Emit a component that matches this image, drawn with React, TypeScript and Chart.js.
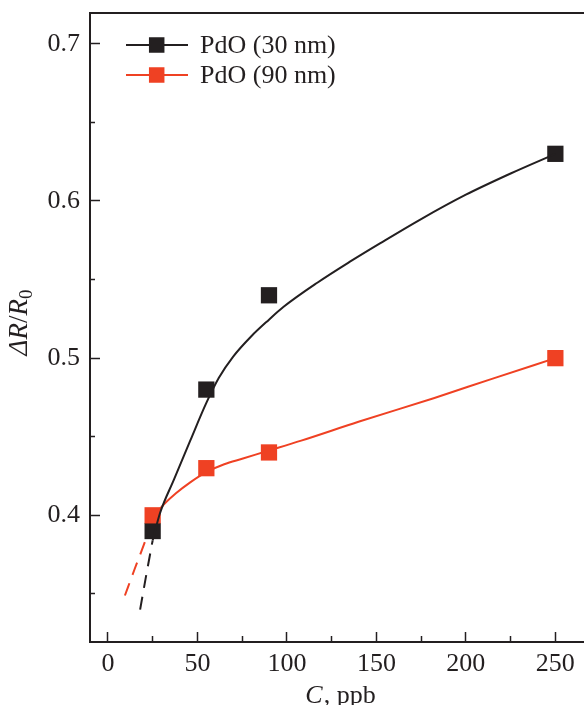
import { useEffect, useRef } from 'react';
import { Chart, registerables } from 'chart.js';

Chart.register(...registerables);

// ---- data ----
const concentration = [25, 55, 90, 250];
const response30nm = [0.39, 0.48, 0.54, 0.63];
const response90nm = [0.4, 0.43, 0.44, 0.5];
const seriesLabels = ['PdO (30 nm)', 'PdO (90 nm)'];

// fitted curve for PdO (30 nm), solid part and dashed extrapolation
const fit30X = [25, 29, 37, 46, 55, 62, 70, 80, 90, 98, 117, 135, 152, 175, 200, 225, 250];
const fit30Y = [0.384, 0.401, 0.423, 0.4475, 0.4715, 0.4875, 0.501, 0.5138, 0.5245, 0.5325, 0.548, 0.5612, 0.573, 0.5885, 0.604, 0.6175, 0.63];
const fit30ExtX = [18, 21.5, 25];
const fit30ExtY = [0.34, 0.3625, 0.384];

// fitted curve for PdO (90 nm), solid part and dashed extrapolation
const fit90X = [25, 30, 38, 46, 55, 65, 75, 90, 108, 140, 182, 215, 250];
const fit90Y = [0.397, 0.4053, 0.414, 0.421, 0.4275, 0.4325, 0.436, 0.4412, 0.4475, 0.4595, 0.4745, 0.487, 0.5];
const fit90ExtX = [9.5, 15, 20, 25];
const fit90ExtY = [0.349, 0.366, 0.381, 0.397];

const xMajorTicks = [0, 50, 100, 150, 200, 250];
const yMajorTicks = [0.4, 0.5, 0.6, 0.7];

const INK = '#231f20';
const RED = '#ef4123';
const FAMILY = '"Liberation Serif", "Times New Roman", serif';

const pts = (xs: number[], ys: number[]) => xs.map((x, i) => ({ x, y: ys[i] }));
const isMajor = (v: number, list: number[]) => list.some((m) => Math.abs(m - v) < 1e-6);

const legendPlugin = {
  id: 'insideLegend',
  afterDraw(chart: any) {
    const { ctx, chartArea: a } = chart;
    ctx.save();
    for (let i = 0; i < 2; i++) {
      const ds = chart.data.datasets[i];
      const color = ds.pointBackgroundColor as string;
      const y = a.top + 32 + i * 30;
      ctx.strokeStyle = color;
      ctx.lineWidth = 2;
      ctx.beginPath();
      ctx.moveTo(a.left + 36, y);
      ctx.lineTo(a.left + 98, y);
      ctx.stroke();
      ctx.fillStyle = color;
      const s = 15.5;
      ctx.fillRect(a.left + 66.7 - s / 2, y - s / 2, s, s);
      ctx.fillStyle = INK;
      ctx.font = `26px ${FAMILY}`;
      ctx.textBaseline = 'middle';
      ctx.textAlign = 'left';
      ctx.fillText(ds.label, a.left + 110, y + 1);
    }
    ctx.restore();
  },
};

const titlesPlugin = {
  id: 'axisTitles',
  afterDraw(chart: any) {
    const { ctx, chartArea: a } = chart;
    ctx.save();
    ctx.fillStyle = INK;
    ctx.textAlign = 'left';
    ctx.textBaseline = 'alphabetic';
    // x title: italic C, regular ", ppb"
    const it = `italic 26px ${FAMILY}`;
    const rg = `26px ${FAMILY}`;
    ctx.font = it;
    const wC = ctx.measureText('C').width;
    ctx.font = rg;
    const wRest = ctx.measureText(', ppb').width;
    const cx = (a.left + a.right) / 2 + 3;
    const x = cx - (wC + wRest) / 2;
    const by = chart.height - 2.5;
    ctx.font = it;
    ctx.fillText('C', x, by);
    ctx.font = rg;
    ctx.fillText(', ppb', x + wC + 1, by);

    // y title: ΔR/R0 rotated
    const parts = [
      { t: 'Δ', f: `italic 27px ${FAMILY}`, dy: 0 },
      { t: 'R', f: `italic 27px ${FAMILY}`, dy: 0 },
      { t: '/', f: `27px ${FAMILY}`, dy: 0 },
      { t: 'R', f: `italic 27px ${FAMILY}`, dy: 0 },
      { t: '0', f: `19px ${FAMILY}`, dy: 5 },
    ];
    let total = 0;
    const widths = parts.map((p) => {
      ctx.font = p.f;
      const w = ctx.measureText(p.t).width;
      total += w;
      return w;
    });
    ctx.translate(27, (a.top + a.bottom) / 2 - 5);
    ctx.rotate(-Math.PI / 2);
    let px = -total / 2;
    parts.forEach((p, i) => {
      ctx.font = p.f;
      ctx.fillText(p.t, px, p.dy);
      px += widths[i];
    });
    ctx.restore();
  },
};

export default function App() {
  const ref = useRef<HTMLCanvasElement>(null);
  useEffect(() => {
    const tickFont = { family: FAMILY, size: 26 };
    const chart = new Chart(ref.current as HTMLCanvasElement, {
      type: 'scatter',
      data: {
        datasets: [
          {
            label: seriesLabels[0],
            data: pts(concentration, response30nm),
            pointStyle: 'rect',
            pointRadius: 11.5,
            pointBackgroundColor: INK,
            pointBorderWidth: 0,
            showLine: false,
            order: 2,
          },
          {
            label: seriesLabels[1],
            data: pts(concentration, response90nm),
            pointStyle: 'rect',
            pointRadius: 11.5,
            pointBackgroundColor: RED,
            pointBorderWidth: 0,
            showLine: false,
            order: 1,
          },
          {
            label: 'fit30',
            data: pts(fit30X, fit30Y),
            showLine: true,
            borderColor: INK,
            borderWidth: 2,
            pointRadius: 0,
            cubicInterpolationMode: 'monotone',
            order: 0,
          },
          {
            label: 'fit30ext',
            data: pts(fit30ExtX, fit30ExtY),
            showLine: true,
            borderColor: INK,
            borderWidth: 2,
            borderDash: [13, 9],
            pointRadius: 0,
            cubicInterpolationMode: 'monotone',
            order: 0,
          },
          {
            label: 'fit90',
            data: pts(fit90X, fit90Y),
            showLine: true,
            borderColor: RED,
            borderWidth: 2,
            pointRadius: 0,
            cubicInterpolationMode: 'monotone',
            order: 3,
          },
          {
            label: 'fit90ext',
            data: pts(fit90ExtX, fit90ExtY),
            showLine: true,
            borderColor: RED,
            borderWidth: 2,
            borderDash: [13, 9],
            pointRadius: 0,
            cubicInterpolationMode: 'monotone',
            order: 3,
          },
        ],
      } as any,
      options: {
        responsive: false,
        animation: false,
        layout: { autoPadding: false, padding: { top: 13, right: 0, bottom: 0, left: 0 } },
        plugins: { legend: { display: false }, tooltip: { enabled: false } },
        scales: {
          x: {
            type: 'linear',
            position: 'bottom',
            min: -10,
            max: 266,
            afterFit: (s: any) => {
              s.height = 63;
              s.paddingLeft = 0;
              s.paddingRight = 0;
            },
            ticks: {
              stepSize: 25,
              includeBounds: false,
              autoSkip: false,
              maxRotation: 0,
              padding: 17,
              color: INK,
              font: tickFont,
              callback: (v: any) => (isMajor(Number(v), xMajorTicks) ? String(Math.round(Number(v))) : ''),
            },
            grid: {
              display: true,
              drawOnChartArea: false,
              drawTicks: true,
              tickLength: -10,
              tickWidth: 1.5,
              tickColor: INK,
              tickBorderDash: (c: any) => (isMajor(c.tick.value, xMajorTicks) ? [] : [7, 100]),
            },
            border: { display: true, width: 2, color: INK },
          },
          xTop: {
            type: 'linear',
            position: 'top',
            min: -10,
            max: 266,
            afterFit: (s: any) => {
              s.height = 0;
              s.paddingLeft = 0;
              s.paddingRight = 0;
            },
            ticks: { display: false },
            grid: { display: false, drawTicks: false },
            border: { display: true, width: 2, color: INK },
          },
          y: {
            type: 'linear',
            position: 'left',
            min: 0.3194,
            max: 0.7196,
            afterFit: (s: any) => {
              s.width = 90;
              s.paddingTop = 0;
              s.paddingBottom = 0;
            },
            ticks: {
              stepSize: 0.05,
              includeBounds: false,
              autoSkip: false,
              padding: 20,
              color: INK,
              font: tickFont,
              callback: (v: any) => (isMajor(Number(v), yMajorTicks) ? Number(v).toFixed(1) : ''),
            },
            grid: {
              display: true,
              drawOnChartArea: false,
              drawTicks: true,
              tickLength: -10,
              tickWidth: 1.5,
              tickColor: INK,
              tickBorderDash: (c: any) => (isMajor(c.tick.value, yMajorTicks) ? [] : [0, 5, 6, 0]),
            },
            border: { display: true, width: 2, color: INK },
          },
        },
      } as any,
      plugins: [legendPlugin, titlesPlugin],
    });
    return () => chart.destroy();
  }, []);
  return (
    <canvas
      ref={ref}
      width={584}
      height={705}
      style={{ position: 'fixed', left: 0, top: 0, display: 'block', width: 584, height: 705 }}
    />
  );
}
